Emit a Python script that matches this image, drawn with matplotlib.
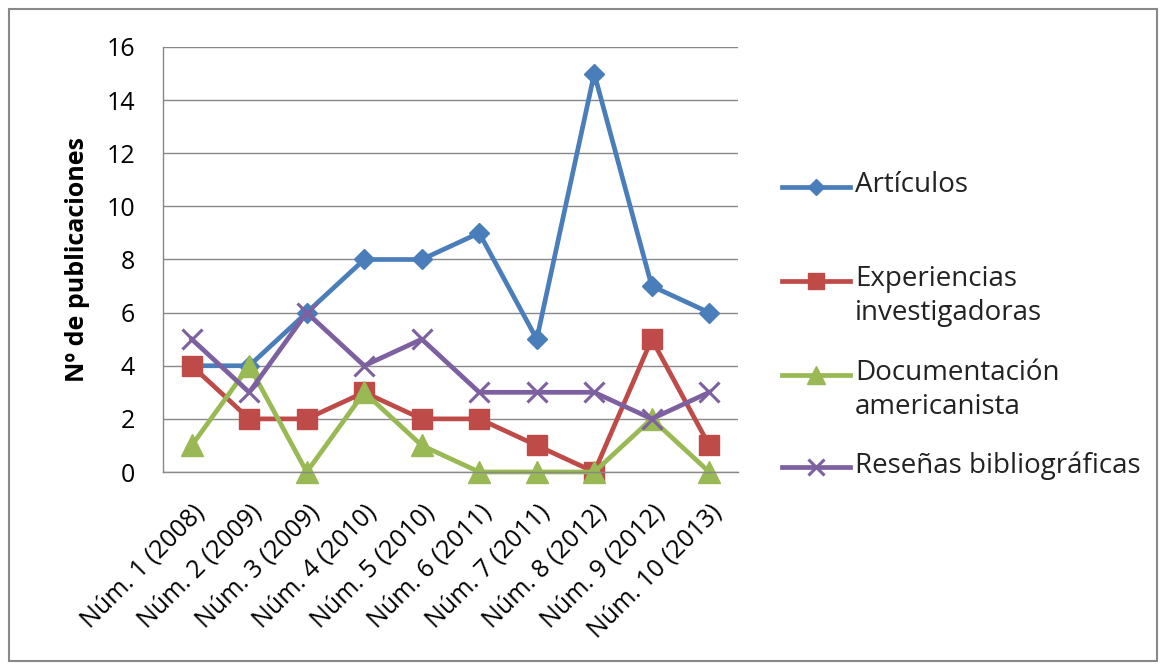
import matplotlib.pyplot as plt
from matplotlib.lines import Line2D
from matplotlib.patches import Rectangle

plt.rcParams['font.family'] = ['Open Sans', 'DejaVu Sans']

# datos
numeros = ['Núm. 1 (2008)', 'Núm. 2 (2009)', 'Núm. 3 (2009)', 'Núm. 4 (2010)',
           'Núm. 5 (2010)', 'Núm. 6 (2011)', 'Núm. 7 (2011)', 'Núm. 8 (2012)',
           'Núm. 9 (2012)', 'Núm. 10 (2013)']
articulos = [4, 4, 6, 8, 8, 9, 5, 15, 7, 6]
experiencias = [4, 2, 2, 3, 2, 2, 1, 0, 5, 1]
documentacion = [1, 4, 0, 3, 1, 0, 0, 0, 2, 0]
resenas = [5, 3, 6, 4, 5, 3, 3, 3, 2, 3]

series = [
    ('Artículos', articulos, '#4A7EBB', 'D', 10.5, 0),
    ('Experiencias\ninvestigadoras', experiencias, '#BE4B48', 's', 15, 0),
    ('Documentación\namericanista', documentacion, '#98B954', '^', 16, 0),
    ('Reseñas bibliográficas', resenas, '#7D60A0', 'x', 15, 2.2),
]

W, H = 1166, 670
fig = plt.figure(figsize=(W / 100, H / 100), dpi=100)
ax = fig.add_axes([163 / W, 1 - 472 / H, 575 / W, 425 / H])

x = list(range(len(numeros)))
for label, vals, col, mk, ms, mew in series:
    ax.plot(x, vals, color=col, lw=3.4, marker=mk, ms=ms,
            mfc=col, mec=col, mew=mew if mew else 1, clip_on=False)

ax.set_xlim(-0.5, len(numeros) - 0.5)
ax.set_ylim(0, 16)
ax.set_yticks(range(0, 17, 2))
ax.set_xticks(x)
ax.set_xticklabels(numeros, rotation=45, ha='right', rotation_mode='anchor',
                   fontsize=18)
ax.tick_params(axis='y', labelsize=18, length=0, pad=20)
ax.tick_params(axis='x', length=0, pad=20)
ax.grid(axis='y', color='#888888', lw=1)
ax.set_axisbelow(True)
for s in ['top', 'right']:
    ax.spines[s].set_visible(False)
for s in ['left', 'bottom']:
    ax.spines[s].set_color('#888888')
    ax.spines[s].set_linewidth(1)
ax.set_ylabel('Nº de publicaciones', fontsize=18, fontweight='bold', labelpad=12)

# leyenda a mano (la línea va a la altura de la primera línea del texto)
leg_y = [187, 281, 375, 467]
for (label, vals, col, mk, ms, mew), yy in zip(series, leg_y):
    yf = 1 - yy / H
    fig.add_artist(Line2D([782 / W, 816 / W, 850 / W], [yf, yf, yf],
                          transform=fig.transFigure, color=col, lw=3.4,
                          marker=mk, markevery=[1], ms=ms * 0.8,
                          mfc=col, mec=col, mew=mew if mew else 1))
    fig.text(855 / W, yf + 16 / H, label, fontsize=20, va='top',
             ha='left', color='#222222', linespacing=1.3)

fig.add_artist(Rectangle((9 / W, 9 / H), 1 - 18 / W, 1 - 18 / H,
                         transform=fig.transFigure, fill=False,
                         edgecolor='#888888', lw=1.5))

fig.savefig('out.png', dpi=100)
